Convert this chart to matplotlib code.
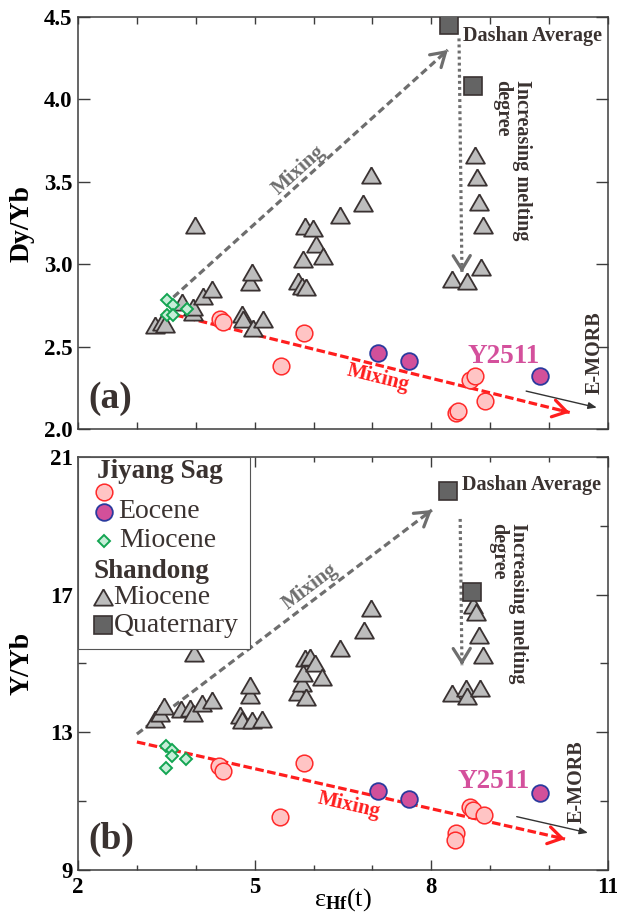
import math
import matplotlib
matplotlib.use('Agg')
import matplotlib.pyplot as plt
from matplotlib.patches import Rectangle

plt.rcParams['font.family'] = ['Liberation Serif', 'DejaVu Serif']
plt.rcParams['mathtext.fontset'] = 'custom'
plt.rcParams['mathtext.rm'] = 'Liberation Serif'
plt.rcParams['mathtext.it'] = 'Liberation Serif'
plt.rcParams['mathtext.bf'] = 'Liberation Serif:bold'

# ---- data ----
# Jiyang Sag (unlabelled pink circles)
jy_hf_a = [4.41, 4.46, 5.45, 5.84, 8.66, 8.74, 8.91, 8.42, 8.46]
jy_dy = [2.67, 2.65, 2.38, 2.58, 2.30, 2.32, 2.17, 2.10, 2.11]
jy_hf_b = [4.40, 4.46, 5.43, 5.83, 8.66, 8.71, 8.89, 8.42, 8.40]
jy_y = [12.02, 11.88, 10.55, 12.10, 10.83, 10.74, 10.60, 10.08, 9.87]

# Jiyang Sag Eocene
eo_hf = [7.10, 7.62, 9.84]
eo_dy = [2.46, 2.41, 2.32]
eo_y = [11.30, 11.06, 11.24]

# Jiyang Sag Miocene
jm_hf_a = [3.51, 3.62, 3.51, 3.62, 3.85]
jm_dy = [2.78, 2.75, 2.69, 2.69, 2.73]
jm_hf_b = [3.49, 3.60, 3.59, 3.83, 3.49]
jm_y = [12.60, 12.49, 12.31, 12.22, 11.96]

# Shandong Miocene
sm_hf_a = [3.31, 3.43, 3.48, 3.77, 3.95, 3.95, 3.99, 4.12, 4.27, 4.78, 4.80,
           4.92, 4.95, 4.97, 5.14, 5.74, 5.80, 5.82, 5.85, 5.88, 5.99, 6.04,
           6.16, 6.45, 6.84, 6.97, 8.35, 8.60, 8.84, 8.74, 8.78, 8.81, 8.87]
sm_dy = [2.63, 2.65, 2.64, 2.77, 2.71, 2.74, 3.24, 2.81, 2.85, 2.70, 2.67,
         2.89, 2.95, 2.61, 2.67, 2.90, 2.87, 3.03, 3.23, 2.86, 3.22, 3.12,
         3.05, 3.30, 3.37, 3.54, 2.91, 2.90, 2.98, 3.66, 3.53, 3.38, 3.24]
sm_hf_b = [3.31, 3.39, 3.46, 3.75, 3.90, 3.95, 3.97, 4.10, 4.27, 4.75, 4.78,
           4.92, 4.92, 4.95, 5.12, 5.74, 5.80, 5.82, 5.85, 5.88, 5.94, 6.02,
           6.14, 6.45, 6.85, 6.97, 8.35, 8.59, 8.60, 8.83, 8.71, 8.76, 8.81, 8.87]
sm_y = [13.39, 13.56, 13.76, 13.68, 13.71, 13.56, 15.30, 13.85, 13.94, 13.50, 13.36,
        14.08, 14.37, 13.36, 13.39, 14.17, 14.43, 14.72, 15.16, 14.03, 15.19, 15.01,
        14.61, 15.45, 15.97, 16.60, 14.14, 14.28, 14.05, 14.28, 16.70, 16.50, 15.83, 15.25]

# Shandong Quaternary
sq_hf_a = [8.30, 8.71]
sq_dy = [4.45, 4.08]
sq_hf_b = [8.28, 8.69]
sq_y = [20.00, 17.08]

# trend arrows (start, end)
mix_up_a = [(3.62, 2.80), (8.28, 4.30)]
mix_dn_a = [(3.45, 2.71), (10.35, 2.10)]
melt_a = [(8.47, 4.37), (8.52, 2.95)]
emorb_a = [(9.61, 2.23), (10.81, 2.13)]
mix_up_b = [(3.00, 12.95), (8.01, 19.46)]
mix_dn_b = [(3.00, 12.72), (10.27, 9.90)]
melt_b = [(8.49, 19.20), (8.52, 14.95)]
emorb_b = [(9.45, 10.55), (10.66, 10.08)]

# ---- styles ----
C_PINK_F, C_PINK_E = '#ffc4c4', '#ff2a2a'
C_EO_F, C_EO_E = '#d2509a', '#2b3a9e'
C_DIA_F, C_DIA_E = '#c6eed8', '#13a552'
C_TRI_F, C_TRI_E = '#bdbdbd', '#3a3232'
C_SQ_F, C_SQ_E = '#646464', '#3a3232'
C_GRAY = '#6e6e6e'
C_RED = '#ff1e1e'
C_TXT = '#3a3230'
TRI = [(0, 0.5), (-0.577, -0.5), (0.577, -0.5), (0, 0.5)]

fig = plt.figure(figsize=(6.17, 9.15), dpi=100)
W, H = 617, 915
ax1 = fig.add_axes([78 / W, (H - 429) / H, 530 / W, 412 / H])
ax2 = fig.add_axes([78 / W, (H - 870) / H, 530 / W, 413 / H])


def arrow(ax, pts, color, lw, dashes, head=True):
    (x0, y0), (x1, y1) = pts
    ax.plot([x0, x1], [y0, y1], color=color, lw=lw, dashes=dashes,
            dash_capstyle='butt', zorder=1)
    if head:
        t = 0.02
        ax.annotate('', xy=(x1, y1), xytext=(x1 - t * (x1 - x0), y1 - t * (y1 - y0)),
                    arrowprops=dict(arrowstyle='->,head_length=0.45,head_width=0.28',
                                    lw=lw, color=color, mutation_scale=22,
                                    shrinkA=0, shrinkB=0), zorder=1)


def angle(ax, pts):
    (x0, y0), (x1, y1) = pts
    p0 = ax.transData.transform((x0, y0))
    p1 = ax.transData.transform((x1, y1))
    return math.degrees(math.atan2(p1[1] - p0[1], p1[0] - p0[0]))


def panel(ax, jyx, jyy, eoy, jmx, jmy, smx, smy, sqx, sqy,
          up, dn, melt, emorb, txt):
    arrow(ax, up, C_GRAY, 2.3, (2.3, 1.3))
    arrow(ax, dn, C_RED, 2.3, (2.7, 1.1))
    arrow(ax, melt, C_GRAY, 2.3, (0.9, 1.0))
    ax.annotate('', xy=emorb[1], xytext=emorb[0],
                arrowprops=dict(arrowstyle='-|>,head_length=0.5,head_width=0.2',
                                lw=1.0, color='#333333', mutation_scale=10,
                                shrinkA=0, shrinkB=0))
    ax.plot(smx, smy, ls='none', marker=TRI, ms=13.5, mfc=C_TRI_F, mec=C_TRI_E,
            mew=1.3, zorder=3)
    ax.plot(sqx, sqy, ls='none', marker='s', ms=12.5, mfc=C_SQ_F, mec=C_SQ_E,
            mew=1.2, zorder=3)
    ax.plot(jyx, jyy, ls='none', marker='o', ms=12, mfc=C_PINK_F, mec=C_PINK_E,
            mew=1.1, zorder=4)
    ax.plot(eo_hf, eoy, ls='none', marker='o', ms=12, mfc=C_EO_F, mec=C_EO_E,
            mew=1.3, zorder=4)
    ax.plot(jmx, jmy, ls='none', marker='D', ms=6.3, mfc=C_DIA_F, mec=C_DIA_E,
            mew=1.4, zorder=4)

    ax.text(*txt['dashan'], 'Dashan Average', fontsize=14.5, fontweight='bold',
            color=C_TXT, ha='left', va='baseline')
    ax.text(*txt['melt'], 'Increasing melting\ndegree', fontsize=14.5,
            fontweight='bold', color=C_TXT, rotation=-90, ha='center', va='top',
            multialignment='left', linespacing=0.95)
    ax.text(*txt['mixup'], 'Mixing', fontsize=15, fontweight='bold', color=C_GRAY,
            rotation=angle(ax, up), ha='center', va='center', rotation_mode='anchor')
    ax.text(*txt['mixdn'], 'Mixing', fontsize=15, fontweight='bold', color=C_RED,
            rotation=angle(ax, dn), ha='center', va='center', rotation_mode='anchor')
    ax.text(*txt['y2511'], 'Y2511', fontsize=19.5, fontweight='bold', color='#d4509c',
            ha='left', va='baseline')
    ax.text(*txt['emorb'], 'E-MORB', fontsize=14.5, fontweight='bold', color=C_TXT,
            rotation=90, ha='center', va='bottom')
    ax.text(0.019, 0.073, txt['lab'], transform=ax.transAxes, fontsize=27,
            fontweight='bold', color=C_TXT, ha='left', va='center')

    for s in ax.spines.values():
        s.set_linewidth(1.1)
        s.set_color('#3c3c3c')


# ---- panel (a) ----
ax1.set_xlim(2, 11)
ax1.set_ylim(2.0, 4.5)
ax1.set_xticks(range(2, 12))
ax1.set_xticklabels([])
ax1.set_yticks([2.0, 2.5, 3.0, 3.5, 4.0, 4.5])
ax1.set_yticklabels(['2.0', '2.5', '3.0', '3.5', '4.0', '4.5'])
ax1.tick_params(axis='x', direction='in', top=True, length=5, width=1.0, color='#3c3c3c')
ax1.tick_params(axis='y', direction='in', right=True, length=8.5, width=1.0,
                color='#3c3c3c', labelsize=16.5, pad=4)
for t in ax1.get_yticklabels():
    t.set_fontweight('bold')
ax1.set_ylabel('Dy/Yb', fontsize=20, fontweight='bold')
ax1.yaxis.set_label_coords(-0.082, 0.5)

panel(ax1, jy_hf_a, jy_dy, eo_dy, jm_hf_a, jm_dy, sm_hf_a, sm_dy, sq_hf_a, sq_dy,
      mix_up_a, mix_dn_a, melt_a, emorb_a,
      dict(dashan=(8.54, 4.356), melt=(9.37, 4.12), mixup=(5.75, 3.57),
           mixdn=(7.09, 2.31), y2511=(8.62, 2.40), emorb=(10.78, 2.21), lab='(a)'))

# ---- panel (b) ----
ax2.set_xlim(2, 11)
ax2.set_ylim(9, 21)
ax2.set_xticks([2, 5, 8, 11])
ax2.set_xticks([3, 4, 6, 7, 9, 10], minor=True)
ax2.set_yticks([9, 13, 17, 21])
ax2.set_yticks([11, 15, 19], minor=True)
ax2.tick_params(axis='x', which='major', direction='in', top=True, length=7, width=1.0,
                color='#3c3c3c', labelsize=16.5, pad=5)
ax2.tick_params(axis='x', which='minor', direction='in', top=True, length=3.8, width=1.0,
                color='#3c3c3c')
ax2.tick_params(axis='y', which='major', direction='in', right=True, length=8.5, width=1.0,
                color='#3c3c3c', labelsize=16.5, pad=4)
ax2.tick_params(axis='y', which='minor', direction='in', right=True, length=5.5, width=1.0,
                color='#3c3c3c')
for t in ax2.get_xticklabels() + ax2.get_yticklabels():
    t.set_fontweight('bold')
ax2.set_ylabel('Y/Yb', fontsize=20, fontweight='bold')
ax2.yaxis.set_label_coords(-0.082, 0.5)
ax2.set_xlabel(r'$\varepsilon_{\mathbf{Hf}}\mathrm{(t)}$', fontsize=19)
ax2.xaxis.set_label_coords(0.5, -0.04)

panel(ax2, jy_hf_b, jy_y, eo_y, jm_hf_b, jm_y, sm_hf_b, sm_y, sq_hf_b, sq_y,
      mix_up_b, mix_dn_b, melt_b, emorb_b,
      dict(dashan=(8.52, 20.04), melt=(9.30, 19.08), mixup=(5.94, 17.22),
           mixdn=(6.60, 10.89), y2511=(8.45, 11.38), emorb=(10.47, 10.37), lab='(b)'))

# ---- legend box (drawn by hand to match the grouped layout) ----
bx, by = (250 - 78) / 530, (870 - 649) / 413
ax2.add_patch(Rectangle((0, by), bx, 1 - by, transform=ax2.transAxes,
                        facecolor='white', edgecolor='#555555', lw=0.8, zorder=5))
leg_txt = dict(transform=ax2.transAxes, color=C_TXT, va='center', zorder=6)
ax2.text(0.036, 0.964, 'Jiyang Sag', fontsize=19.5, fontweight='bold', ha='left', **leg_txt)
ax2.text(0.030, 0.722, 'Shandong', fontsize=19.5, fontweight='bold', ha='left', **leg_txt)
ax2.text(0.075, 0.867, 'Eocene', fontsize=20, ha='left', **leg_txt)
ax2.text(0.077, 0.797, 'Miocene', fontsize=20, ha='left', **leg_txt)
ax2.text(0.066, 0.661, 'Miocene', fontsize=20, ha='left', **leg_txt)
ax2.text(0.068, 0.593, 'Quaternary', fontsize=20, ha='left', **leg_txt)
mk = dict(transform=ax2.transAxes, ls='none', zorder=6, clip_on=False)
ax2.plot([0.049], [0.915], marker='o', ms=12, mfc=C_PINK_F, mec=C_PINK_E, mew=1.1, **mk)
ax2.plot([0.049], [0.867], marker='o', ms=12, mfc=C_EO_F, mec=C_EO_E, mew=1.3, **mk)
ax2.plot([0.049], [0.797], marker='D', ms=6.3, mfc=C_DIA_F, mec=C_DIA_E, mew=1.4, **mk)
ax2.plot([0.047], [0.661], marker=TRI, ms=13.5, mfc=C_TRI_F, mec=C_TRI_E, mew=1.3, **mk)
ax2.plot([0.047], [0.593], marker='s', ms=12.5, mfc=C_SQ_F, mec=C_SQ_E, mew=1.2, **mk)

fig.savefig('out.png', dpi=100)
